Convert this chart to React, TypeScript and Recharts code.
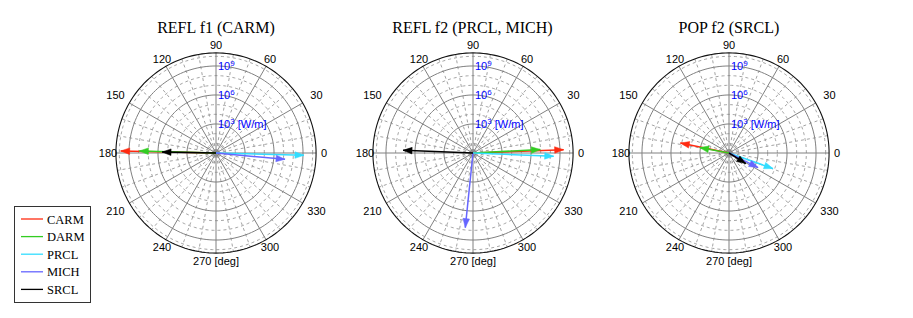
import React from 'react';
import { ScatterChart, Scatter, XAxis, YAxis } from 'recharts';

// degrees of freedom, in legend / drawing order
const dofs = ['CARM', 'DARM', 'PRCL', 'MICH', 'SRCL'];
const dofColors = ['#ff2a10', '#33cc22', '#33ddff', '#6666ff', '#000000'];

const panelTitles = ['REFL f1 (CARM)', 'REFL f2 (PRCL, MICH)', 'POP f2 (SRCL)'];

// log10 of the signal amplitude [W/m] and its phase [deg], per dof
const reflF1Mag = [9.86, 7.93, 9.1, 7.17, 5.58];
const reflF1Phase = [178.8, 178.5, 358.5, 354.8, 179.0];
const reflF2Mag = [9.38, 6.97, 8.35, 7.76, 7.24];
const reflF2Phase = [2.1, 2.9, 357.7, 264.1, 177.8];
const popF2Mag = [5.13, 3.08, 4.83, 3.36, 2.05];
const popF2Phase = [168.4, 169.6, 340.5, 333.3, 327.6];

const angleTicks = [0, 30, 60, 90, 120, 150, 180, 210, 240, 270, 300, 330];
const minorAngles = [10, 20, 40, 50, 70, 80, 100, 110, 130, 140, 160, 170];
const radialTicks = [3, 6, 9];
const minorRadial = [1, 2, 4, 5, 7, 8, 10];
const radialLabels = ['3', '6', '9'];
const outerDecade = 10.35;

// layout
const K = 9.67; // px per decade
const CW = 256;
const CH = 300;
const CX = 128;
const CY = 153;
const centers = [216, 472.5, 729];

type Pt = { x: number; y: number; text?: string; tip?: boolean; ang?: number; sup?: string };

const rad = (d: number) => (d * Math.PI) / 180;
const polar = (r: number, deg: number): Pt => ({ x: r * Math.cos(rad(deg)), y: r * Math.sin(rad(deg)) });

const ring = (r: number): Pt[] => {
  const pts: Pt[] = [];
  for (let a = 0; a <= 360; a += 2) pts.push(polar(r, a));
  return pts;
};

const noDot = () => <g />;

const angleText = (props: any) => {
  const { cx, cy, payload } = props;
  return (
    <text x={cx} y={cy} textAnchor="middle" dominantBaseline="central" fontSize={11}
      fontFamily="'Liberation Sans', Arial, sans-serif" fill="#000">
      {payload.text}
    </text>
  );
};

const radialText = (props: any) => {
  const { cx, cy, payload } = props;
  return (
    <text x={cx + 2} y={cy + 4.5} fontSize={11} fontFamily="'Liberation Sans', Arial, sans-serif" fill="#0000ff">
      10<tspan dy={-4.5} fontSize={8}>{payload.sup}</tspan>
      <tspan dy={4.5}>{payload.text}</tspan>
    </text>
  );
};

const arrowHead = (color: string) => (props: any) => {
  const { cx, cy, payload } = props;
  if (!payload.tip) return <g />;
  const a = rad(payload.ang);
  const dx = Math.cos(a);
  const dy = -Math.sin(a);
  const L = 9;
  const W = 3.3;
  const bx = cx - L * dx;
  const by = cy - L * dy;
  const pts = `${cx},${cy} ${bx - W * dy},${by + W * dx} ${bx + W * dy},${by - W * dx}`;
  return <polygon points={pts} fill={color} stroke={color} strokeWidth={0.5} />;
};

function PolarPanel({ mags, phases }: { mags: number[]; phases: number[] }) {
  const xDom = [-CX / K, (CW - CX) / K];
  const yDom = [-(CH - CY) / K, CY / K];
  const solid = { stroke: '#808080', strokeWidth: 1 };
  const dashed = { stroke: '#999', strokeWidth: 0.9, strokeDasharray: '3 3' };

  const angleLabels: Pt[] = angleTicks.map((a) => {
    const c = Math.abs(Math.cos(rad(a)));
    const rpx = c > 0.8 && c < 0.9 ? 116 : 108;
    return { ...polar(rpx / K, a), text: a === 270 ? '270 [deg]' : String(a) };
  });
  const rLabels: Pt[] = radialTicks.map((r, i) => ({
    ...polar(r, 90),
    sup: radialLabels[i],
    text: i === 0 ? ' [W/m]' : '',
  }));

  return (
    <ScatterChart width={CW} height={CH} margin={{ top: 0, right: 0, bottom: 0, left: 0 }}>
      <XAxis type="number" dataKey="x" domain={xDom} allowDataOverflow hide />
      <YAxis type="number" dataKey="y" domain={yDom} allowDataOverflow hide />
      {minorRadial.map((r) => (
        <Scatter key={`mr${r}`} data={ring(r)} line={dashed} shape={noDot} isAnimationActive={false} />
      ))}
      {minorAngles.map((a) => (
        <Scatter key={`ma${a}`} data={[polar(outerDecade, a), polar(outerDecade, a + 180)]} line={dashed}
          shape={noDot} isAnimationActive={false} />
      ))}
      {radialTicks.map((r) => (
        <Scatter key={`rr${r}`} data={ring(r)} line={solid} shape={noDot} isAnimationActive={false} />
      ))}
      {angleTicks.slice(0, 6).map((a) => (
        <Scatter key={`aa${a}`} data={[polar(outerDecade, a), polar(outerDecade, a + 180)]} line={solid}
          shape={noDot} isAnimationActive={false} />
      ))}
      <Scatter data={ring(outerDecade)} line={{ stroke: '#111', strokeWidth: 1.1 }} shape={noDot}
        isAnimationActive={false} />
      <Scatter data={angleLabels} shape={angleText} isAnimationActive={false} />
      <Scatter data={rLabels} shape={radialText} isAnimationActive={false} />
      {dofs.map((d, i) => (
        <Scatter key={d} data={[{ x: 0, y: 0 }, { ...polar(mags[i], phases[i]), tip: true, ang: phases[i] }]}
          line={{ stroke: dofColors[i], strokeWidth: 1.5 }} shape={arrowHead(dofColors[i])}
          isAnimationActive={false} />
      ))}
    </ScatterChart>
  );
}

function Legend() {
  return (
    <svg width={78} height={98} style={{ position: 'absolute', left: 14, top: 206 }}>
      <rect x={0.5} y={0.5} width={76} height={96} fill="#fff" stroke="#333" strokeWidth={1} />
      {dofs.map((d, i) => (
        <g key={d}>
          <line x1={7} x2={29} y1={13 + i * 17.6} y2={13 + i * 17.6} stroke={dofColors[i]} strokeWidth={1.3} />
          <text x={33} y={17.5 + i * 17.6} fontSize={12.5} fontFamily="'Liberation Serif', 'Times New Roman', serif">
            {d}
          </text>
        </g>
      ))}
    </svg>
  );
}

export default function App() {
  const panels = [
    { mags: reflF1Mag, phases: reflF1Phase },
    { mags: reflF2Mag, phases: reflF2Phase },
    { mags: popF2Mag, phases: popF2Phase },
  ];
  return (
    <div style={{ position: 'absolute', left: 0, top: 0, width: 913, height: 318, background: '#fff', overflow: 'hidden' }}>
      {panels.map((p, i) => (
        <React.Fragment key={i}>
          <div style={{
            position: 'absolute', left: centers[i] - 110, width: 220, top: 20, textAlign: 'center',
            fontFamily: "'Liberation Serif', 'Times New Roman', serif", fontSize: 16, lineHeight: '16px',
          }}>
            {panelTitles[i]}
          </div>
          <div style={{ position: 'absolute', left: centers[i] - CX, top: 0 }}>
            <PolarPanel mags={p.mags} phases={p.phases} />
          </div>
        </React.Fragment>
      ))}
      <Legend />
    </div>
  );
}
